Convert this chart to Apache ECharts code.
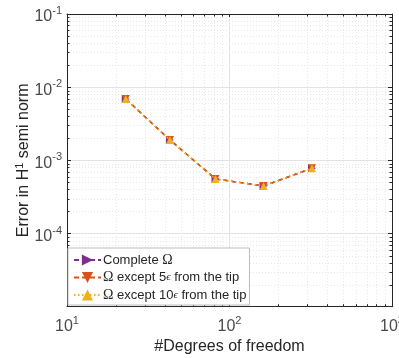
<!DOCTYPE html>
<html>
<head>
<meta charset="utf-8">
<script src="https://cdn.jsdelivr.net/npm/echarts@6/dist/echarts.min.js"></script>
<style>
  html, body { margin: 0; padding: 0; background: #fff; }
  #chart { width: 399px; height: 358px; }
</style>
</head>
<body>
<div id="chart"></div>
<script>
// Degrees of freedom for each refinement level
var dofs = [23, 43, 82, 162, 322];
// H1 semi-norm error, full domain
var errComplete = [6.9e-3, 1.9e-3, 5.57e-4, 4.47e-4, 7.8e-4];
// H1 semi-norm error, excluding 5 eps around the tip
var errExcl5 = [6.9e-3, 1.9e-3, 5.57e-4, 4.47e-4, 7.8e-4];
// H1 semi-norm error, excluding 10 eps around the tip
var errExcl10 = [6.9e-3, 1.9e-3, 5.57e-4, 4.47e-4, 7.8e-4];
var seriesNames = ['Complete \u03A9', '\u03A9 except 5\u03F5 from the tip', '\u03A9 except 10\u03F5 from the tip'];

var X_MIN = 10, X_MAX = 1000, Y_MIN = 1e-5, Y_MAX = 1e-1;
var FONT = '"Liberation Sans", Arial, Helvetica, sans-serif';
var SERIF = '"Liberation Serif", "Times New Roman", serif';
var AXIS_COLOR = '#262626';

// minor log positions (2..9 x 10^k) for both axes
var minorData = [];
for (var ex = 1; ex < 3; ex++) {
  for (var m = 2; m <= 9; m++) minorData.push([m * Math.pow(10, ex), Y_MIN, 0]);
}
for (var ey = -5; ey < -1; ey++) {
  for (var n = 2; n <= 9; n++) minorData.push([X_MIN, n * Math.pow(10, ey), 1]);
}

function pairs(xs, ys) { return xs.map(function (x, i) { return [x, ys[i]]; }); }

function powLabel(value, hideExp) {
  var e = Math.round(Math.log10(value));
  if (hideExp !== undefined && e === hideExp) return '';
  return '{b|10}{s|' + (e < 0 ? '-' + (-e) : e) + '}';
}

var tickRich = {
  b: { fontSize: 16, fontFamily: FONT, color: '#4a4a4a', padding: [6, 0, 0, 0] },
  s: { fontSize: 11, fontFamily: FONT, color: '#4a4a4a', padding: [0, 0, 6, 0] }
};

function logAxis(base) {
  return Object.assign({
    type: 'log',
    logBase: 10,
    axisLine: { show: true, lineStyle: { color: AXIS_COLOR, width: 1 } },
    axisTick: { show: true, inside: true, length: 4, lineStyle: { color: AXIS_COLOR } },
    minorTick: { show: false },
    splitLine: { show: false }
  }, base);
}

// legend text: Omega drawn in a serif face, epsilon small and italic
function legendText(name) {
  return name
    .replace(/\u03A9/g, '{o|\u03A9}')
    .replace(/(\d+)\u03F5/g, '$1{e|\u03F5}');
}

var chart = echarts.init(document.getElementById('chart'), null, { renderer: 'canvas' });

var option = {
  animation: false,
  backgroundColor: '#fff',
  grid: { left: 67, right: 7, top: 14, bottom: 51.3, containLabel: false, outerBoundsMode: 'none' },
  xAxis: [
    logAxis({
      min: X_MIN, max: X_MAX, position: 'bottom',
      name: '#Degrees of freedom', nameLocation: 'middle', nameGap: 32, nameMoveOverlap: false,
      nameTextStyle: { fontSize: 16, fontFamily: FONT, color: '#262626' },
      axisLabel: { margin: 6, formatter: function (v) { return powLabel(v); }, rich: tickRich, showMaxLabel: true },
      splitLine: { show: true, lineStyle: { color: '#e3e3e3', width: 1 } }
    }),
    logAxis({ min: X_MIN, max: X_MAX, position: 'top', axisLabel: { show: false } })
  ],
  yAxis: [
    logAxis({
      min: Y_MIN, max: Y_MAX, position: 'left',
      name: 'Error in H{sup|1} semi norm', nameLocation: 'middle', nameGap: 33, nameMoveOverlap: false,
      nameTextStyle: {
        fontSize: 16, fontFamily: FONT, color: '#262626',
        rich: { sup: { fontSize: 11, fontFamily: FONT, color: '#262626', padding: [0, 0, 9, 0] } }
      },
      axisLabel: { margin: 5, formatter: function (v) { return powLabel(v, -5); }, rich: tickRich },
      splitLine: { show: true, lineStyle: { color: '#e3e3e3', width: 1 } }
    }),
    logAxis({ min: Y_MIN, max: Y_MAX, position: 'right', axisLabel: { show: false } })
  ],
  legend: {
    data: seriesNames,
    orient: 'vertical',
    left: 68, top: 248,
    padding: [5, 3, 3, 5],
    itemGap: 3.5,
    itemWidth: 27, itemHeight: 14,
    backgroundColor: '#ffffff',
    borderColor: '#bdbdbd', borderWidth: 1,
    formatter: legendText,
    textStyle: {
      fontSize: 13, fontFamily: FONT, color: '#262626', padding: [0, 0, 0, -3], lineHeight: 14,
      rich: {
        o: { fontSize: 14, fontFamily: SERIF, color: '#262626', lineHeight: 14 },
        e: { fontSize: 11, fontFamily: SERIF, fontStyle: 'italic', color: '#262626', lineHeight: 14 }
      }
    }
  },
  series: [
    {
      type: 'custom',
      name: 'minor-grid',
      silent: true,
      clip: false,
      z: 1,
      encode: { x: 0, y: 1 },
      data: minorData,
      renderItem: function (params, api) {
        var cs = params.coordSys;
        var kind = api.value(2);
        var grid = { stroke: '#e8e8e8', lineWidth: 1, lineDash: [1, 2] };
        var tick = { stroke: AXIS_COLOR, lineWidth: 1 };
        var children = [];
        if (kind === 0) {
          var px = Math.round(api.coord([api.value(0), Y_MIN])[0]) + 0.5;
          children.push({ type: 'line', shape: { x1: px, y1: cs.y, x2: px, y2: cs.y + cs.height }, style: grid });
          children.push({ type: 'line', shape: { x1: px, y1: cs.y + cs.height, x2: px, y2: cs.y + cs.height - 2.5 }, style: tick });
          children.push({ type: 'line', shape: { x1: px, y1: cs.y, x2: px, y2: cs.y + 2.5 }, style: tick });
        } else {
          var py = Math.round(api.coord([X_MIN, api.value(1)])[1]) + 0.5;
          children.push({ type: 'line', shape: { x1: cs.x, y1: py, x2: cs.x + cs.width, y2: py }, style: grid });
          children.push({ type: 'line', shape: { x1: cs.x, y1: py, x2: cs.x + 2.5, y2: py }, style: tick });
          children.push({ type: 'line', shape: { x1: cs.x + cs.width, y1: py, x2: cs.x + cs.width - 2.5, y2: py }, style: tick });
        }
        return { type: 'group', children: children };
      }
    },
    {
      name: seriesNames[0], type: 'line', z: 3,
      data: pairs(dofs, errComplete),
      symbol: 'triangle', symbolSize: 8, symbolRotate: -90,
      itemStyle: { color: '#7E2F8E' },
      lineStyle: { color: '#7E2F8E', width: 1.5, type: [5, 3] }
    },
    {
      name: seriesNames[1], type: 'line', z: 4,
      data: pairs(dofs, errExcl5),
      symbol: 'triangle', symbolSize: 8, symbolRotate: 180,
      itemStyle: { color: '#D95319' },
      lineStyle: { color: '#D95319', width: 1.5, type: [5, 3] }
    },
    {
      name: seriesNames[2], type: 'line', z: 5,
      data: pairs(dofs, errExcl10),
      symbol: 'triangle', symbolSize: 8,
      itemStyle: { color: '#EDB120' },
      lineStyle: { color: '#EDB120', width: 1.5, type: [1.5, 2.5] }
    }
  ]
};

chart.setOption(option);
</script>
</body>
</html>
